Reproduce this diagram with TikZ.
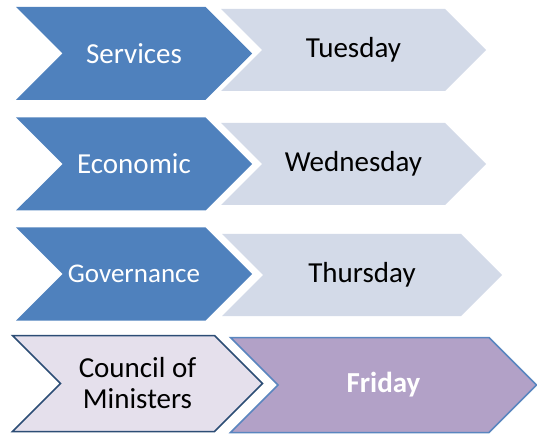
\documentclass[tikz,border=0pt]{standalone}
\usepackage{fontspec}
\setmainfont{Carlito}
\usepackage{xcolor}
\usepackage{tikz}
\usetikzlibrary{positioning,shapes.symbols}
\definecolor{chevblue}{HTML}{4F81BD}
\definecolor{daygray}{HTML}{D3DAE8}
\definecolor{cmfill}{HTML}{E5E0EC}
\definecolor{cmline}{HTML}{2C4D75}
\definecolor{frifill}{HTML}{B2A1C7}
\definecolor{friline}{HTML}{5A86BF}
\begin{document}
\begin{tikzpicture}[x=1pt,y=-1pt,font=\fontsize{29}{31}\selectfont]
        \tikzstyle{chev}=[signal,signal from=west,signal to=east,signal pointer angle=90,inner sep=0pt,align=center]
        \tikzstyle{topic}=[chev,fill=chevblue,text=white,minimum width=236pt,minimum height=93pt]
        \tikzstyle{day}=[chev,fill=daygray,text=black,minimum width=265pt,minimum height=82pt]
        \useasboundingbox (0,0) rectangle (537,435);
        \node[topic] (svc) at (134,53.5) {Services};
        \node[day] (tue) at (353.5,50) {Tuesday};
        \node[topic] (eco) at (134,164) {Economic};
        \node[day] (wed) at (353.5,164) {Wednesday};
        \node[topic,font=\fontsize{27}{30}\selectfont] (gov) at (134,274) {Governance};
        \node[day,minimum width=280pt] (thu) at (362,275) {Thursday};
        \node[chev,fill=cmfill,draw=cmline,line width=1.5pt,minimum width=250pt,minimum height=96pt] (cm) at (137.5,383.5) {Council of\\Ministers};
        \node[chev,fill=frifill,draw=friline,line width=1.5pt,text=white,font=\fontsize{29}{31}\selectfont\bfseries,minimum width=306pt,minimum height=95pt] (fri) at (383.5,385) {Friday};
\end{tikzpicture}
\end{document}
